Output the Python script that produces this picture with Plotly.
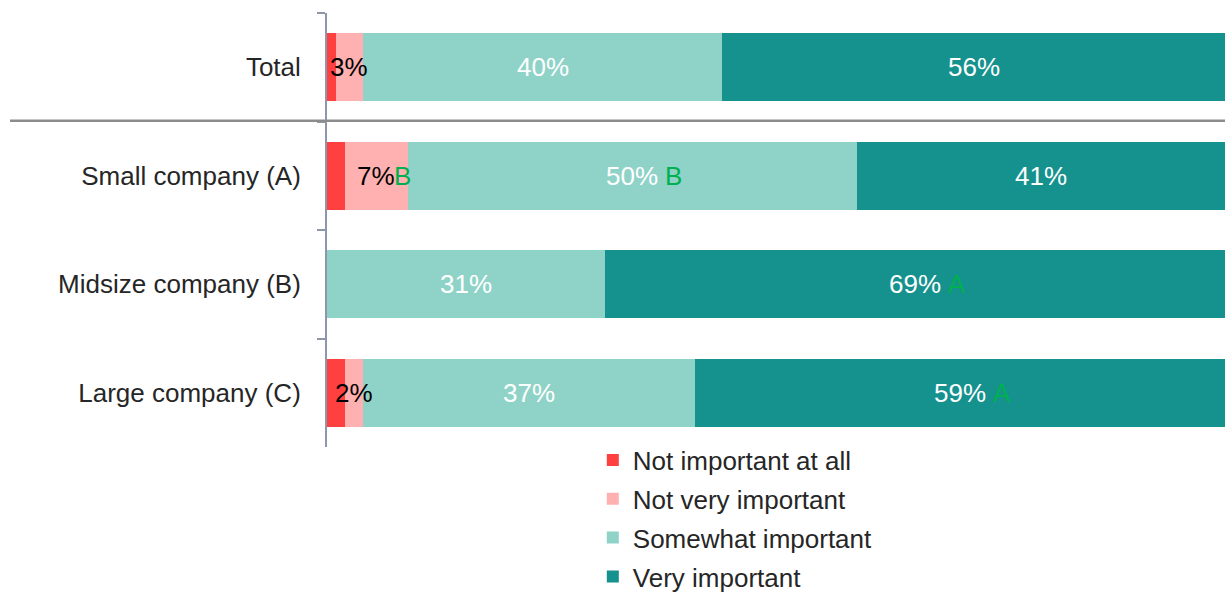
import plotly.graph_objects as go

# Survey shares by company size (percent of respondents)
categories = ["Total", "Small company (A)", "Midsize company (B)", "Large company (C)"]
series_names = ["Not important at all", "Not very important", "Somewhat important", "Very important"]
not_at_all = [1, 2, 0, 2]
not_very = [3, 7, 0, 2]
somewhat = [40, 50, 31, 37]
very = [56, 41, 69, 59]

# Significance letters shown next to the percentage labels
sig_not_at_all = ["", "", "", ""]
sig_not_very = ["", "B", "", ""]
sig_somewhat = ["", "B", "", ""]
sig_very = ["", "", "A", "A"]

colors = ["#FF4040", "#FFB1B1", "#8FD3C8", "#15918E"]
label_colors = ["#000000", "#000000", "#FFFFFF", "#FFFFFF"]
letter_gaps = [0, 0, 8, 8]
show_labels = [False, True, True, True]
FONT = "Arial, Liberation Sans, sans-serif"
FS = 26

series = [not_at_all, not_very, somewhat, very]
letters_all = [sig_not_at_all, sig_not_very, sig_somewhat, sig_very]

fig = go.Figure()
for name, vals, col in zip(series_names, series, colors):
    fig.add_trace(go.Bar(
        name=name, y=categories, x=vals, orientation="h",
        marker=dict(color=col, line=dict(width=0)),
        hoverinfo="skip", legendgroup=name,
    ))


def text_width(s):
    w = {"%": 0.889}
    return sum(w.get(ch, 0.556) for ch in s) * FS


# Percentage labels centred on each segment, drawn above all bars,
# with green significance letters placed just to their right
for k, (vals, lcol, letters, gap, show) in enumerate(
        zip(series, label_colors, letters_all, letter_gaps, show_labels)):
    for i, v in enumerate(vals):
        if not show or v <= 0:
            continue
        start = sum(series[j][i] for j in range(k))
        center = start + v / 2
        label = f"{v}%"
        fig.add_annotation(
            x=center, y=categories[i], xref="x", yref="y",
            text=label, showarrow=False, xanchor="center",
            font=dict(family=FONT, size=FS, color=lcol),
        )
        if letters[i]:
            fig.add_annotation(
                x=center, y=categories[i], xref="x", yref="y",
                text=letters[i], showarrow=False, xanchor="left",
                xshift=text_width(label) / 2 + gap - 3,
                font=dict(family=FONT, size=FS, color="#00B050"),
            )

# Divider under the Total row
fig.add_shape(type="line", xref="paper", yref="paper",
              x0=-0.353, x1=1, y0=0.752, y1=0.752,
              line=dict(color="#8C8C8C", width=2.5))

fig.update_layout(
    width=1225, height=592,
    barmode="stack", bargap=0.37,
    plot_bgcolor="white", paper_bgcolor="white",
    margin=dict(l=327, r=0, t=13, b=145, autoexpand=False),
    font=dict(family=FONT, size=FS, color="#262626"),
    showlegend=True,
    legend=dict(
        x=0.296, xanchor="left", y=0.024, yanchor="top",
        orientation="v", traceorder="grouped", tracegroupgap=2,
        font=dict(family=FONT, size=FS, color="#262626"),
        bgcolor="rgba(0,0,0,0)",
    ),
    xaxis=dict(range=[0, 100], visible=False, fixedrange=True),
    yaxis=dict(
        type="category", categoryorder="array", categoryarray=categories,
        autorange="reversed",
        showline=True, linecolor="#8E97AA", linewidth=2,
        ticks="outside", tickson="boundaries", ticklen=8,
        tickcolor="#8E97AA", tickwidth=2,
        ticklabelstandoff=19,
        showgrid=False, zeroline=False,
        tickfont=dict(family=FONT, size=FS, color="#262626"),
    ),
)

fig.write_html("out.html")
